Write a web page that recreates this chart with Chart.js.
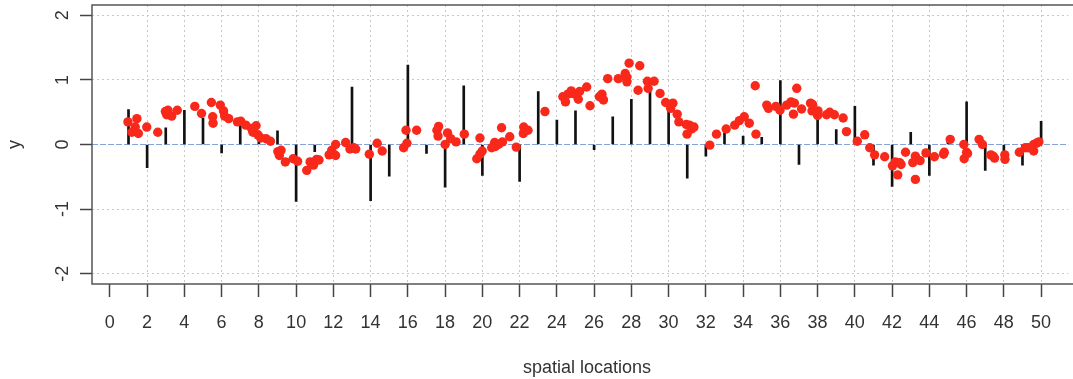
<!DOCTYPE html>
<html>
<head>
<meta charset="utf-8">
<script src="https://cdn.jsdelivr.net/npm/chart.js@4"></script>
<style>
body { margin: 0; background: #fff; }
#wrap { width: 1073px; height: 379px; }
</style>
</head>
<body>
<div id="wrap"><canvas id="chart"></canvas></div>
<script>
// observed values at the 50 spatial locations (vertical spikes)
const locations = Array.from({length: 50}, (_, i) => i + 1)
const observed = [
	0.54, -0.36, 0.26, 0.53, 0.41, -0.13, 0.30, 0.14, 0.21, -0.88,
	-0.11, 0.02, 0.89, -0.87, -0.49, 1.23, -0.14, -0.66, 0.91, -0.48,
	-0.04, -0.57, 0.82, 0.38, 0.52, -0.08, 0.43, 0.70, 0.85, 0.64,
	-0.52, -0.18, 0.18, 0.13, 0.11, 0.99, -0.31, 0.43, 0.23, 0.59,
	-0.32, -0.65, 0.19, -0.48, 0.06, 0.66, -0.40, -0.19, -0.32, 0.36]

// red points
const pointX = [
	0.97, 1.18, 1.36, 1.45, 1.53, 1.98, 2.57, 2.98, 3.05, 3.12,
	3.32, 3.62, 4.56, 4.92, 5.45, 5.52, 5.54, 5.93, 6.10, 6.16,
	6.38, 6.85, 7.03, 7.30, 7.60, 7.68, 7.85, 7.95, 8.10, 8.38,
	8.62, 9.02, 9.10, 9.19, 9.42, 9.84, 10.08, 10.57, 10.75, 10.93,
	11.10, 11.23, 11.77, 11.91, 12.12, 12.12, 12.66, 12.89, 13.10, 13.20,
	13.93, 14.35, 14.62, 15.77, 15.90, 15.95, 16.47, 17.56, 17.62, 17.65,
	18.00, 18.13, 18.30, 18.59, 19.03, 19.70, 19.87, 19.87, 19.99, 20.50,
	20.66, 20.70, 20.85, 21.03, 21.08, 21.47, 21.82, 22.20, 22.22, 22.45,
	23.36, 24.32, 24.46, 24.59, 24.77, 24.86, 25.04, 25.15, 25.22, 25.60,
	25.78, 26.28, 26.42, 26.50, 26.73, 27.30, 27.67, 27.76, 27.76, 27.88,
	28.36, 28.45, 28.86, 28.90, 29.22, 29.54, 29.84, 30.11, 30.23, 30.46,
	30.55, 30.95, 30.99, 31.12, 31.23, 31.36, 32.21, 32.57, 33.09, 33.55,
	33.80, 34.06, 34.33, 34.65, 34.69, 35.27, 35.36, 35.76, 35.98, 36.34,
	36.57, 36.70, 36.75, 36.88, 37.14, 37.62, 37.70, 37.73, 38.00, 38.02,
	38.48, 38.65, 38.90, 39.37, 39.55, 40.13, 40.53, 40.80, 41.06, 41.60,
	42.02, 42.17, 42.30, 42.40, 42.48, 42.72, 43.11, 43.25, 43.25, 43.50,
	43.82, 44.27, 44.76, 44.80, 45.12, 45.85, 45.87, 46.00, 46.05, 46.67,
	46.85, 47.30, 47.42, 47.50, 48.05, 48.06, 48.83, 49.15, 49.30, 49.60,
	49.60, 49.75, 49.88]
const pointY = [
	0.35, 0.19, 0.27, 0.40, 0.17, 0.27, 0.19, 0.51, 0.46, 0.53,
	0.44, 0.53, 0.59, 0.48, 0.65, 0.43, 0.33, 0.61, 0.52, 0.44,
	0.40, 0.35, 0.36, 0.30, 0.25, 0.19, 0.29, 0.15, 0.10, 0.09,
	0.05, -0.11, -0.17, -0.09, -0.27, -0.22, -0.26, -0.40, -0.27, -0.32,
	-0.23, -0.24, -0.16, -0.09, -0.17, 0.00, 0.03, -0.07, -0.05, -0.07,
	-0.15, 0.02, -0.10, -0.05, 0.22, 0.02, 0.22, 0.22, 0.13, 0.28,
	0.00, 0.18, 0.09, 0.04, 0.16, -0.22, -0.15, 0.10, -0.10, -0.05,
	0.03, -0.03, 0.00, 0.26, 0.04, 0.12, -0.04, 0.17, 0.27, 0.22,
	0.51, 0.74, 0.66, 0.78, 0.83, 0.79, 0.77, 0.70, 0.82, 0.89,
	0.60, 0.74, 0.78, 0.69, 1.02, 1.02, 1.10, 1.04, 0.97, 1.26,
	0.84, 1.22, 0.98, 0.87, 0.98, 0.79, 0.65, 0.56, 0.64, 0.47,
	0.35, 0.31, 0.16, 0.30, 0.24, 0.27, -0.01, 0.16, 0.24, 0.30,
	0.37, 0.43, 0.33, 0.91, 0.16, 0.61, 0.56, 0.59, 0.53, 0.61,
	0.66, 0.47, 0.64, 0.87, 0.55, 0.64, 0.52, 0.62, 0.45, 0.52,
	0.46, 0.50, 0.46, 0.41, 0.20, 0.05, 0.15, -0.05, -0.16, -0.19,
	-0.33, -0.27, -0.47, -0.28, -0.31, -0.12, -0.28, -0.18, -0.54, -0.25,
	-0.13, -0.19, -0.15, -0.12, 0.08, 0.00, -0.22, -0.12, -0.14, 0.08,
	0.00, -0.16, -0.18, -0.21, -0.16, -0.23, -0.12, -0.05, -0.05, -0.10,
	0.00, 0.02, 0.04]

const xTicks = Array.from({length: 26}, (_, i) => i * 2)
const yTicks = [-2, -1, 0, 1, 2]
const xTitle = 'spatial locations'
const yTitle = 'y'

const FONT = '"Liberation Sans", Arial, Helvetica, sans-serif'
const GRID = '#c8c8c8'

// box, rotated y labels and axis titles, drawn like base R graphics
const frame = {
	id: 'frame',
	afterDraw(chart) {
		const ctx = chart.ctx
		const a = chart.chartArea
		const y = chart.scales.y
		ctx.save()
		ctx.strokeStyle = '#555'
		ctx.lineWidth = 1.5
		ctx.beginPath()
		ctx.moveTo(a.right + 5, a.top)
		ctx.lineTo(a.left, a.top)
		ctx.lineTo(a.left, a.bottom)
		ctx.lineTo(a.right + 5, a.bottom)
		ctx.stroke()

		ctx.fillStyle = '#333'
		ctx.font = '18px ' + FONT
		ctx.textAlign = 'center'
		ctx.textBaseline = 'middle'
		for (const v of yTicks) {
			ctx.save()
			ctx.translate(63, y.getPixelForValue(v))
			ctx.rotate(-Math.PI / 2)
			ctx.fillText(String(v), 0, 0)
			ctx.restore()
		}
		ctx.save()
		ctx.translate(15, (a.top + a.bottom) / 2)
		ctx.rotate(-Math.PI / 2)
		ctx.fillText(yTitle, 0, 0)
		ctx.restore()
		ctx.fillText(xTitle, 587, 368)
		ctx.restore()
	}
}

new Chart(document.getElementById('chart'), {
	type: 'scatter',
	data: {
		datasets: [{
			type: 'scatter',
			label: 'fitted',
			data: pointX.map((x, i) => ({x: x, y: pointY[i]})),
			pointBackgroundColor: '#f8281a',
			pointBorderWidth: 0,
			pointRadius: 4.7,
			order: 0,
		}, {
			type: 'bar',
			label: 'observed',
			data: locations.map((x, i) => ({x: x, y: observed[i]})),
			backgroundColor: '#111',
			barThickness: 2,
			order: 1,
		}],
	},
	options: {
		animation: false,
		responsive: true,
		maintainAspectRatio: false,
		layout: { padding: { top: 5, left: 0, right: 0, bottom: 0 } },
		plugins: {
			legend: { display: false },
			tooltip: { enabled: false },
		},
		scales: {
			x: {
				type: 'linear',
				min: -0.96,
				max: 51.46,
				offset: false,
				afterBuildTicks: s => { s.ticks = xTicks.map(v => ({value: v})) },
				afterFit: s => { s.height = 95 },
				ticks: {
					font: { size: 18, family: FONT },
					color: '#333',
					padding: 15,
					maxRotation: 0,
					autoSkip: false,
				},
				grid: {
					offset: false,
					color: c => (c.tick && c.tick.value === 0) ? 'rgba(0,0,0,0)' : GRID,
					lineWidth: 1,
					tickColor: '#444',
					tickLength: 13,
					tickWidth: 1.5,
					tickBorderDash: [],
				},
				border: { display: false, dash: [2, 3] },
			},
			y: {
				type: 'linear',
				min: -2.16,
				max: 2.16,
				afterBuildTicks: s => { s.ticks = yTicks.map(v => ({value: v})) },
				afterFit: s => { s.width = 92 },
				ticks: { display: false },
				grid: {
					color: c => (c.tick && c.tick.value === 0) ? '#86a2d8' : GRID,
					lineWidth: 1,
					tickColor: '#444',
					tickLength: 12,
					tickWidth: 1.5,
					tickBorderDash: [],
				},
				border: { display: false, dash: c => (c.tick && c.tick.value === 0) ? [6, 2] : [2, 3] },
			},
		},
	},
	plugins: [frame],
})
</script>
</body>
</html>
